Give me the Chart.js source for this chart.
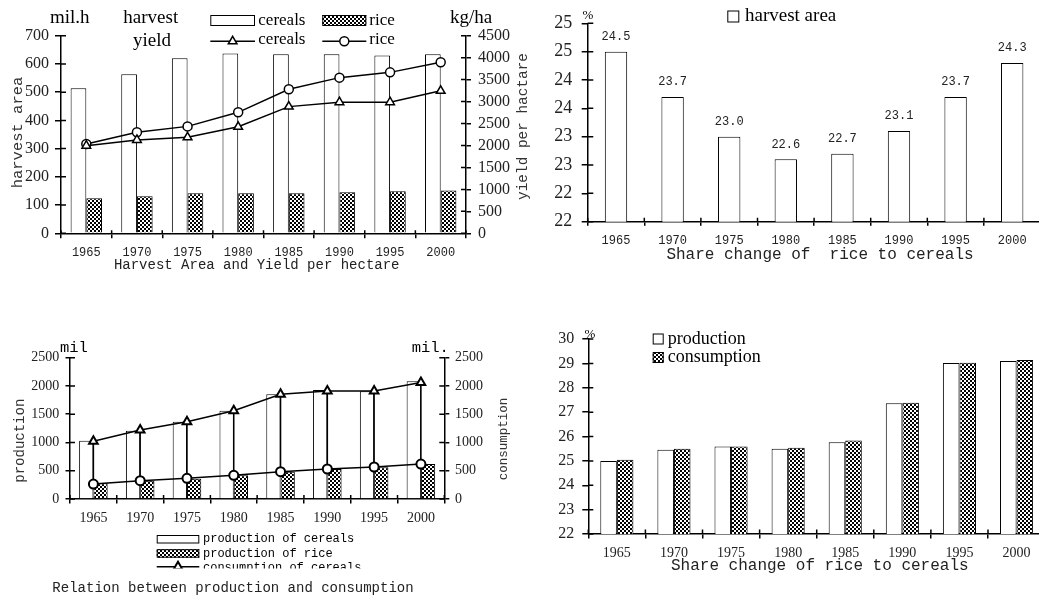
<!DOCTYPE html>
<html>
<head>
<meta charset="utf-8">
<script src="https://cdn.jsdelivr.net/npm/chart.js@4.4.0/dist/chart.umd.min.js"></script>
<style>
  html, body { margin: 0; padding: 0; background: #fff; overflow: hidden; }
  body { width: 1039px; height: 599px; position: relative; }
  canvas { position: absolute; }
</style>
</head>
<body>
<canvas id="c1" width="535" height="280" style="left:0;top:0"></canvas>
<canvas id="c2" width="522" height="280" style="left:520px;top:0"></canvas>
<canvas id="c3" width="520" height="309" style="left:0;top:290px"></canvas>
<canvas id="c4" width="528" height="309" style="left:520px;top:290px"></canvas>
<script>
var years = ['1965', '1970', '1975', '1980', '1985', '1990', '1995', '2000'];

// harvest area (mil. ha) and yield (kg/ha)
var areaCereals = [514, 563, 620, 637, 634, 634, 630, 634];
var areaRice = [124, 131, 142, 142, 142, 145, 149, 152];
var yieldCereals = [1995, 2125, 2185, 2425, 2885, 2985, 2985, 3245];
var yieldRice = [2035, 2300, 2435, 2755, 3280, 3545, 3665, 3895];

// share of rice in cereals harvest area (%)
var shareArea = [24.5, 23.7, 23.0, 22.6, 22.7, 23.1, 23.7, 24.3];
var shareAreaTicks = ['22', '22', '23', '23', '24', '24', '25', '25'];

// production and consumption (mil.)
var prodCereals = [1030, 1208, 1368, 1562, 1852, 1928, 1905, 2082];
var prodRice = [277, 324, 359, 419, 483, 531, 561, 619];
var consCereals = [1020, 1220, 1368, 1562, 1852, 1910, 1910, 2060];
var consRice = [265, 324, 365, 419, 483, 531, 566, 619];

// share of rice in cereals production / consumption (%)
var shareProd = [25.0, 25.46, 25.59, 25.5, 25.76, 27.36, 29.02, 29.1];
var shareCons = [25.05, 25.5, 25.59, 25.54, 25.84, 27.38, 29.03, 29.14];

var SERIF = 'Liberation Serif';
var MONO = 'Liberation Mono';

function checker() {
  var c = document.createElement('canvas');
  c.width = 4; c.height = 4;
  var g = c.getContext('2d');
  g.fillStyle = '#fff'; g.fillRect(0, 0, 4, 4);
  g.fillStyle = '#000'; g.fillRect(0, 0, 2, 2); g.fillRect(2, 2, 2, 2);
  return g.createPattern(c, 'repeat');
}
var rice = checker();

function marker(ctx, style, x, y, r, bw) {
  ctx.save();
  ctx.fillStyle = '#fff'; ctx.strokeStyle = '#000'; ctx.lineWidth = bw;
  ctx.beginPath();
  if (style === 'triangle') {
    for (var k = 0; k < 3; k++) {
      var a = k * 2 * Math.PI / 3;
      var px = x + Math.sin(a) * r, py = y - Math.cos(a) * r;
      if (k === 0) ctx.moveTo(px, py); else ctx.lineTo(px, py);
    }
    ctx.closePath();
  } else {
    ctx.arc(x, y, r, 0, Math.PI * 2);
  }
  ctx.fill(); ctx.stroke();
  ctx.restore();
}

// tick stubs on the inner side of the axes
function innerTicks(map) {
  return {
    id: 'innerTicks',
    afterDraw: function(chart) {
      var ctx = chart.ctx;
      ctx.save();
      ctx.strokeStyle = '#000'; ctx.lineWidth = 1.5;
      ctx.beginPath();
      for (var id in map) {
        var s = chart.scales[id], len = map[id];
        if (s.isHorizontal()) {
          var n = chart.data.labels.length;
          for (var i = 0; i <= n; i++) {
            var x = s.left + s.width * i / n;
            ctx.moveTo(x, s.top); ctx.lineTo(x, s.top - len);
          }
        } else {
          var left = s.position === 'left';
          var x0 = left ? s.right : s.left;
          s.ticks.forEach(function(t, j) {
            var y = s.getPixelForTick(j);
            ctx.moveTo(x0, y); ctx.lineTo(x0 + (left ? len : -len), y);
          });
        }
      }
      ctx.stroke();
      ctx.restore();
    }
  };
}

// free texts and hand placed legend
function annot(cfg) {
  return {
    id: 'annot',
    afterDraw: function(chart) {
      var ctx = chart.ctx;
      (cfg.texts || []).forEach(function(t) {
        ctx.save();
        ctx.font = t.font;
        ctx.fillStyle = t.color || '#000';
        ctx.textAlign = t.align || 'center';
        ctx.textBaseline = t.baseline || 'middle';
        ctx.translate(t.x, t.y);
        if (t.rotate) ctx.rotate(t.rotate * Math.PI / 180);
        ctx.fillText(t.text, 0, 0);
        ctx.restore();
      });
      (cfg.legend || []).forEach(function(it) {
        var ds = chart.data.datasets[it.ds];
        ctx.save();
        if (cfg.clip) { ctx.beginPath(); ctx.rect(0, 0, chart.width, cfg.clip); ctx.clip(); }
        if (ds.type === 'line') {
          var cy = it.y + it.h / 2;
          ctx.strokeStyle = '#000'; ctx.lineWidth = ds.borderWidth;
          ctx.beginPath(); ctx.moveTo(it.x, cy); ctx.lineTo(it.x + it.w, cy); ctx.stroke();
          marker(ctx, ds.pointStyle, it.x + it.w / 2, cy, ds.pointRadius, ds.pointBorderWidth);
        } else {
          ctx.fillStyle = ds.backgroundColor;
          ctx.fillRect(it.x, it.y, it.w, it.h);
          ctx.strokeStyle = '#000'; ctx.lineWidth = 1;
          ctx.strokeRect(it.x + 0.5, it.y + 0.5, it.w - 1, it.h - 1);
        }
        ctx.font = it.font; ctx.fillStyle = '#000';
        ctx.textAlign = 'left'; ctx.textBaseline = 'middle';
        ctx.fillText(ds.label, it.tx, it.ty);
        ctx.restore();
      });
    }
  };
}

function valueLabels(font, gap) {
  return {
    id: 'valueLabels',
    afterDatasetsDraw: function(chart) {
      var ctx = chart.ctx, ds = chart.data.datasets[0];
      ctx.save();
      ctx.font = font; ctx.fillStyle = '#222';
      ctx.textAlign = 'center'; ctx.textBaseline = 'middle';
      chart.getDatasetMeta(0).data.forEach(function(bar, i) {
        ctx.fillText(ds.data[i].toFixed(1), bar.x, bar.y - gap);
      });
      ctx.restore();
    }
  };
}

function xAxis(h, font, pad, tick) {
  return {
    type: 'category', offset: true,
    afterFit: function(s) { s.height = h; },
    ticks: { font: font, color: '#222', padding: pad, maxRotation: 0, autoSkip: false },
    grid: { offset: true, drawOnChartArea: false, tickLength: tick, color: '#000', lineWidth: 1.5 },
    border: { color: '#000', width: 1.5 }
  };
}

function yAxis(o) {
  return {
    type: 'linear', position: o.pos || 'left', min: o.min, max: o.max,
    afterFit: function(s) { s.width = o.width; },
    ticks: { stepSize: o.step, font: o.font, color: '#222', padding: o.pad, callback: o.cb, autoSkip: false },
    grid: { drawOnChartArea: false, tickLength: o.tick, color: '#000', lineWidth: 1.5 },
    border: { color: '#000', width: 1.5 }
  };
}

Chart.defaults.animation = false;
Chart.defaults.events = [];
Chart.defaults.plugins.legend.display = false;
Chart.defaults.plugins.tooltip.enabled = false;
Chart.defaults.responsive = false;

// 1. harvest area and yield
new Chart(document.getElementById('c1'), {
  type: 'bar',
  data: {
    labels: years,
    datasets: [
      { type: 'line', label: 'cereals', data: yieldCereals, yAxisID: 'y1', borderColor: '#000', borderWidth: 1.5,
        pointStyle: 'triangle', pointRadius: 5, pointBackgroundColor: '#fff', pointBorderColor: '#000', pointBorderWidth: 1.5, order: 0 },
      { type: 'line', label: 'rice', data: yieldRice, yAxisID: 'y1', borderColor: '#000', borderWidth: 1.5,
        pointStyle: 'circle', pointRadius: 4.5, pointBackgroundColor: '#fff', pointBorderColor: '#000', pointBorderWidth: 1.5, order: 0 },
      { type: 'bar', label: 'cereals', data: areaCereals, backgroundColor: '#fff', borderColor: '#000', borderWidth: 1,
        categoryPercentage: 0.62, barPercentage: 1, order: 1 },
      { type: 'bar', label: 'rice', data: areaRice, backgroundColor: rice, borderColor: '#000', borderWidth: 1,
        categoryPercentage: 0.62, barPercentage: 1, order: 1 }
    ]
  },
  options: {
    layout: { padding: { top: 35.7, left: 0, right: 15, bottom: 0 } },
    scales: {
      x: xAxis(46.7, { family: MONO, size: 12 }, 7.5, 5),
      y: yAxis({ min: 0, max: 700, step: 100, width: 61, tick: 6, pad: 6, font: { family: SERIF, size: 16 } }),
      y1: yAxis({ pos: 'right', min: 0, max: 4500, step: 500, width: 54, tick: 5, pad: 7, font: { family: SERIF, size: 16 } })
    }
  },
  plugins: [
    innerTicks({ x: 3, y: 5, y1: 5 }),
    annot({
      texts: [
        { text: 'mil.h', x: 50, y: 23, font: '19px ' + SERIF, align: 'left', baseline: 'alphabetic' },
        { text: 'harvest', x: 123.3, y: 23, font: '19px ' + SERIF, align: 'left', baseline: 'alphabetic' },
        { text: 'yield', x: 133, y: 46, font: '19px ' + SERIF, align: 'left', baseline: 'alphabetic' },
        { text: 'kg/ha', x: 450, y: 23, font: '19px ' + SERIF, align: 'left', baseline: 'alphabetic' },
        { text: 'harvest area', x: 17.5, y: 132.5, rotate: -90, font: '15.5px ' + MONO, color: '#333' },
        { text: 'yield per hactare', x: 523.3, y: 126.5, rotate: -90, font: '14.4px ' + MONO, color: '#333' },
        { text: 'Harvest Area and Yield per hectare', x: 256.7, y: 265.5, font: '14px ' + MONO, color: '#222' }
      ],
      legend: [
        { ds: 2, x: 210.3, y: 15, w: 44.7, h: 11, tx: 258.3, ty: 20.5, font: '17px ' + SERIF },
        { ds: 3, x: 322.3, y: 15, w: 44, h: 11, tx: 369.3, ty: 20.5, font: '17px ' + SERIF },
        { ds: 0, x: 210.3, y: 36, w: 44.7, h: 10.6, tx: 258.3, ty: 40, font: '17px ' + SERIF },
        { ds: 1, x: 322.3, y: 36, w: 44, h: 10.6, tx: 369.3, ty: 40, font: '17px ' + SERIF }
      ]
    })
  ]
});

// 2. share of rice in harvest area
new Chart(document.getElementById('c2'), {
  type: 'bar',
  data: {
    labels: years,
    datasets: [
      { label: 'harvest area', data: shareArea, backgroundColor: '#fff', borderColor: '#000', borderWidth: 1,
        categoryPercentage: 1, barPercentage: 0.395 }
    ]
  },
  options: {
    layout: { padding: { top: 23.3, left: 0, right: 1.5, bottom: 0 } },
    scales: {
      x: xAxis(58.3, { family: MONO, size: 12 }, 8, 4),
      y: yAxis({ min: 21.5, max: 25, step: 0.5, width: 67.7, tick: 6, pad: 9.4, font: { family: SERIF, size: 18 },
        cb: function(v, i) { return shareAreaTicks[i]; } })
    }
  },
  plugins: [
    innerTicks({ x: 4, y: 5.6 }),
    valueLabels('12px ' + MONO, 15),
    annot({
      texts: [
        { text: '%', x: 68, y: 16, font: '13px ' + SERIF },
        { text: 'Share change of  rice to cereals', x: 300, y: 255, font: '16px ' + MONO, color: '#222' }
      ],
      legend: [
        { ds: 0, x: 207.3, y: 10.5, w: 12, h: 12, tx: 225, ty: 16.5, font: '19px ' + SERIF }
      ]
    })
  ]
});

// 3. production and consumption
new Chart(document.getElementById('c3'), {
  type: 'bar',
  data: {
    labels: years,
    datasets: [
      { type: 'line', label: 'consumption of cereals', data: consCereals, borderColor: '#000', borderWidth: 1.5,
        pointStyle: 'triangle', pointRadius: 5, pointBackgroundColor: '#fff', pointBorderColor: '#000', pointBorderWidth: 2, order: 0 },
      { type: 'line', label: 'consumption of rice', data: consRice, borderColor: '#000', borderWidth: 1.5,
        pointStyle: 'circle', pointRadius: 4.5, pointBackgroundColor: '#fff', pointBorderColor: '#000', pointBorderWidth: 2, order: 0 },
      { type: 'bar', label: 'high-low', data: consCereals.map(function(v, i) { return [consRice[i], v]; }),
        grouped: false, maxBarThickness: 1.5, backgroundColor: '#000', borderWidth: 0, order: 1 },
      { type: 'bar', label: 'production of cereals', data: prodCereals, backgroundColor: '#fff', borderColor: '#000', borderWidth: 1,
        categoryPercentage: 0.61, barPercentage: 1, order: 2 },
      { type: 'bar', label: 'production of rice', data: prodRice, backgroundColor: rice, borderColor: '#000', borderWidth: 1,
        categoryPercentage: 0.61, barPercentage: 1, order: 2 }
    ]
  },
  options: {
    layout: { padding: { top: 67.7, left: 0, right: 0, bottom: 0 } },
    scales: {
      x: xAxis(100, { family: SERIF, size: 14 }, 6.4, 4.5),
      y: yAxis({ min: 0, max: 2500, step: 500, width: 70, tick: 4.5, pad: 6.2, font: { family: SERIF, size: 14 } }),
      y1: yAxis({ pos: 'right', min: 0, max: 2500, step: 500, width: 75.7, tick: 5, pad: 5.7, font: { family: SERIF, size: 14 } })
    }
  },
  plugins: [
    innerTicks({ x: 4, y: 5, y1: 5 }),
    annot({
      clip: 278.4,
      texts: [
        { text: 'mil', x: 60, y: 57.5, font: '15.5px ' + MONO, align: 'left' },
        { text: 'mil.', x: 411.7, y: 57.5, font: '15.5px ' + MONO, align: 'left' },
        { text: 'production', x: 20, y: 150.7, rotate: -90, font: '14px ' + MONO, color: '#333' },
        { text: 'consumption', x: 503.3, y: 149, rotate: -90, font: '12.5px ' + MONO, color: '#333' },
        { text: 'Relation between production and consumption', x: 233, y: 298.3, font: '14px ' + MONO, color: '#222' }
      ],
      legend: [
        { ds: 3, x: 156.7, y: 245, w: 42.6, h: 8.5, tx: 203, ty: 249, font: '12px ' + MONO },
        { ds: 4, x: 156.7, y: 259.2, w: 42.6, h: 8.5, tx: 203, ty: 263.5, font: '12px ' + MONO },
        { ds: 0, x: 156.7, y: 272, w: 42.6, h: 9.4, tx: 203, ty: 278, font: '12px ' + MONO },
        { ds: 1, x: 156.7, y: 286, w: 42.6, h: 9.4, tx: 203, ty: 292, font: '12px ' + MONO }
      ]
    })
  ]
});

// 4. share of rice in production and consumption
new Chart(document.getElementById('c4'), {
  type: 'bar',
  data: {
    labels: years,
    datasets: [
      { label: 'production', data: shareProd, backgroundColor: '#fff', borderColor: '#000', borderWidth: 1,
        categoryPercentage: 0.58, barPercentage: 1 },
      { label: 'consumption', data: shareCons, backgroundColor: rice, borderColor: '#000', borderWidth: 1,
        categoryPercentage: 0.58, barPercentage: 1 }
    ]
  },
  options: {
    layout: { padding: { top: 49, left: 0, right: 2.9, bottom: 0 } },
    scales: {
      x: xAxis(65, { family: SERIF, size: 14 }, 6.1, 4.5),
      y: yAxis({ min: 22, max: 30, step: 1, width: 68.3, tick: 6, pad: 8, font: { family: SERIF, size: 16 } })
    }
  },
  plugins: [
    innerTicks({ x: 4.5, y: 5 }),
    annot({
      texts: [
        { text: '%', x: 70, y: 45, font: '13px ' + SERIF },
        { text: 'Share change of rice to cereals', x: 299.8, y: 276, font: '16px ' + MONO, color: '#222' }
      ],
      legend: [
        { ds: 0, x: 132.7, y: 43.5, w: 11, h: 11, tx: 147.7, ty: 49, font: '18px ' + SERIF },
        { ds: 1, x: 132.7, y: 62, w: 11, h: 11, tx: 147.7, ty: 67.5, font: '18px ' + SERIF }
      ]
    })
  ]
});
</script>
</body>
</html>
